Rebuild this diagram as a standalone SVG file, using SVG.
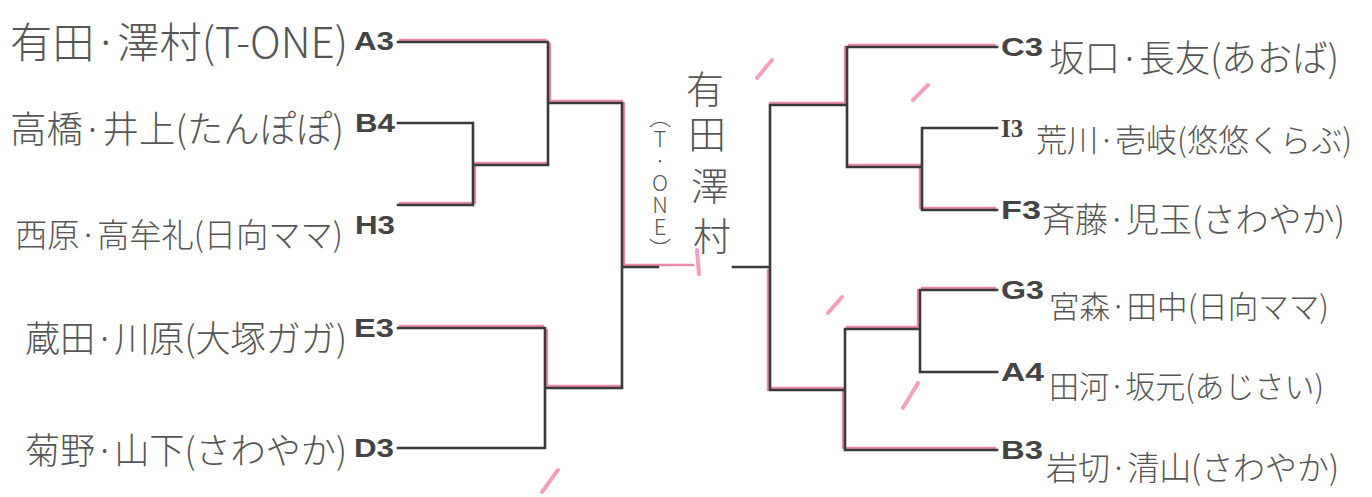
<svg xmlns="http://www.w3.org/2000/svg" width="1372" height="497" viewBox="0 0 1372 497">
<style>
.hw{font-family:"Noto Sans CJK JP","Noto Sans CJK SC",sans-serif;font-weight:300;fill:#555}
.hv{font-family:"Noto Sans CJK JP","Noto Sans CJK SC",sans-serif;font-weight:300;font-size:38px;fill:#555;text-anchor:middle}
.hs{font-family:"Noto Sans CJK JP","Noto Sans CJK SC",sans-serif;font-weight:300;font-size:22px;fill:#555;writing-mode:vertical-rl;text-orientation:upright}
.cd{font-family:"Liberation Sans",Arial,sans-serif;font-weight:bold;font-size:25px;fill:#444}
.cds{font-family:"Liberation Serif","Times New Roman",serif;font-weight:bold;font-size:25px;fill:#444}
.ln{fill:none;stroke:#3a3a3a;stroke-width:2.6;stroke-linecap:square}
.pk{fill:none;stroke:#ec7f9f;stroke-width:2.4;stroke-linecap:round;opacity:0.9}
.mk{fill:none;stroke:#f08fb0;stroke-width:4;stroke-linecap:round;opacity:0.85}
</style>
<rect width="1372" height="497" fill="#ffffff"/>
<g id="connectors">
<path class="pk" d="M400,40 H546 M550,44 V101 M550,101 H622 M624,103 V265 M624,265 H693 M400,203 H471 M475,165 V203 M475,163 H548 M400,326 H543 M547,330 V386 M547,386 H620"/>
<path class="pk" d="M849,45 H995 M845,47 V103 M770,103 H845 M924,208 H995 M920,167 V208 M847,165 H920 M922,288 H995 M918,290 V327 M847,327 H918 M847,448 H995 M843,390 V448 M770,388 H843 M768,270 V390"/>
<path class="ln" d="M398,42 H548 M398,123 H473 M398,205 H473 M473,123 V205 M473,165 H548 M548,42 V165 M548,103 H622 M398,328 H545 M398,448 H545 M545,328 V448 M545,388 H622 M622,103 V388 M622,267 H658"/>
<path class="ln" d="M733,267 H770 M770,105 V390 M770,105 H847 M847,47 V167 M847,47 H997 M847,167 H922 M922,128 V210 M922,128 H997 M922,210 H997 M770,390 H845 M845,329 V450 M845,329 H920 M920,290 V372 M920,290 H997 M920,372 H997 M845,450 H997"/>
</g>
<g id="marks">
<path class="mk" d="M697,250 L699,274 M757,78 L772,60 M828,313 L842,297 M542,492 L558,470 M913,100 L928,85 M903,408 L918,383"/>
</g>
<g id="node-A3">
<text class="hw" x="10" y="58" font-size="42" textLength="338" lengthAdjust="spacingAndGlyphs">有田·澤村(T-ONE)</text>
<text class="cd" x="354" y="50" textLength="40" lengthAdjust="spacingAndGlyphs">A3</text>
</g>
<g id="node-B4">
<text class="hw" x="10" y="143" font-size="37" textLength="334" lengthAdjust="spacingAndGlyphs">高橋·井上(たんぽぽ)</text>
<text class="cd" x="355" y="132" textLength="40" lengthAdjust="spacingAndGlyphs">B4</text>
</g>
<g id="node-H3">
<text class="hw" x="15" y="247" font-size="33" textLength="328" lengthAdjust="spacingAndGlyphs">西原·高牟礼(日向ママ)</text>
<text class="cd" x="355" y="234" textLength="40" lengthAdjust="spacingAndGlyphs">H3</text>
</g>
<g id="node-E3">
<text class="hw" x="25" y="352" font-size="36" textLength="322" lengthAdjust="spacingAndGlyphs">蔵田·川原(大塚ガガ)</text>
<text class="cd" x="354" y="337" textLength="40" lengthAdjust="spacingAndGlyphs">E3</text>
</g>
<g id="node-D3">
<text class="hw" x="25" y="464" font-size="36" textLength="322" lengthAdjust="spacingAndGlyphs">菊野·山下(さわやか)</text>
<text class="cd" x="354" y="457" textLength="40" lengthAdjust="spacingAndGlyphs">D3</text>
</g>
<g id="node-C3">
<text class="cd" x="1001" y="56" textLength="42" lengthAdjust="spacingAndGlyphs">C3</text>
<text class="hw" x="1049" y="72" font-size="37" textLength="290" lengthAdjust="spacingAndGlyphs">坂口·長友(あおば)</text>
</g>
<g id="node-I3">
<text class="cds" x="1001" y="137">I3</text>
<text class="hw" x="1036" y="152" font-size="32" textLength="316" lengthAdjust="spacingAndGlyphs">荒川·壱岐(悠悠くらぶ)</text>
</g>
<g id="node-F3">
<text class="cd" x="1001" y="219" textLength="40" lengthAdjust="spacingAndGlyphs">F3</text>
<text class="hw" x="1042" y="232" font-size="34" textLength="303" lengthAdjust="spacingAndGlyphs">斉藤·児玉(さわやか)</text>
</g>
<g id="node-G3">
<text class="cd" x="1001" y="299" textLength="43" lengthAdjust="spacingAndGlyphs">G3</text>
<text class="hw" x="1049" y="318" font-size="31" textLength="280" lengthAdjust="spacingAndGlyphs">宮森·田中(日向ママ)</text>
</g>
<g id="node-A4">
<text class="cd" x="1001" y="381" textLength="43" lengthAdjust="spacingAndGlyphs">A4</text>
<text class="hw" x="1049" y="398" font-size="31" textLength="275" lengthAdjust="spacingAndGlyphs">田河·坂元(あじさい)</text>
</g>
<g id="node-B3">
<text class="cd" x="1001" y="459" textLength="42" lengthAdjust="spacingAndGlyphs">B3</text>
<text class="hw" x="1046" y="480" font-size="33" textLength="293" lengthAdjust="spacingAndGlyphs">岩切·清山(さわやか)</text>
</g>
<g id="winner">
<text class="hv" x="705" y="103">有</text>
<text class="hv" x="707" y="148">田</text>
<text class="hv" x="710" y="200">澤</text>
<text class="hv" x="712" y="250">村</text>
<text class="hs" x="660" y="106">（T·ONE）</text>
</g>
</svg>
